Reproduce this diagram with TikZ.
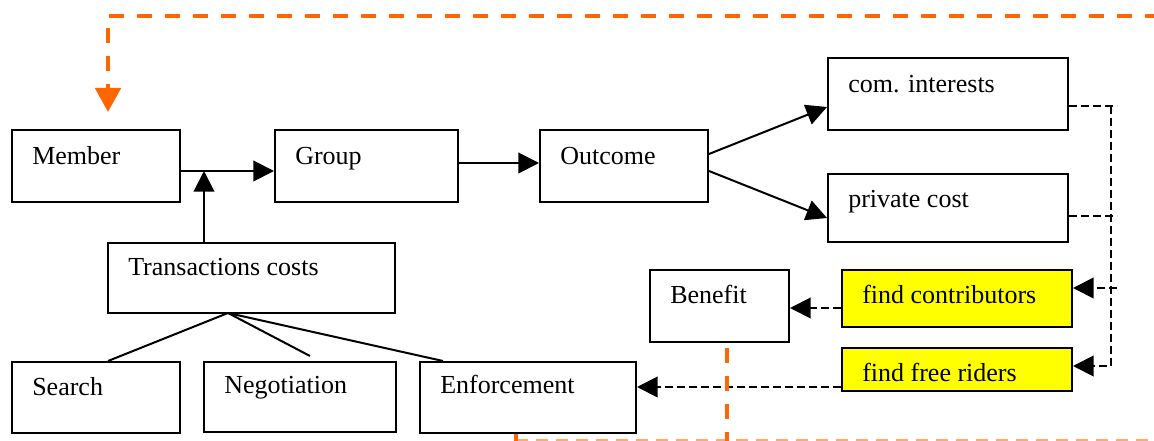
\documentclass[tikz,border=0pt]{standalone}
\usepackage{fontspec}
\setmainfont{Liberation Serif}
\usetikzlibrary{arrows.meta,fit}
\definecolor{loopcol}{HTML}{FF6600}
\definecolor{loopfaint}{HTML}{FFAA70}
\definecolor{hlcol}{HTML}{FFFF00}
\begin{document}
\begin{tikzpicture}[x=0.75pt,y=-0.75pt,
  box/.style={draw=black, line width=1.5pt, inner sep=0pt},
  hlbox/.style={box, fill=hlcol},
  lbl/.style={anchor=base west, inner sep=0pt, font=\fontsize{19.5}{22}\selectfont},
  link/.style={line width=1.5pt, -{Triangle[length=15.5pt,width=15.5pt]}},
  plain/.style={line width=1.5pt},
  dlink/.style={line width=1.5pt, dash pattern=on 6pt off 3pt, -{Triangle[length=15.5pt,width=15.5pt]}},
  dplain/.style={line width=1.5pt, dash pattern=on 6pt off 3pt},
  loopline/.style={draw=loopcol, line width=3pt, dash pattern=on 11.5pt off 9.5pt},
  looparrow/.style={loopline, -{Triangle[length=18pt,width=19pt,fill=loopcol]}},
  loopthin/.style={draw=loopfaint, line width=1.6pt, dash pattern=on 9pt off 6pt}
]
\useasboundingbox (0,0) rectangle (1154,441);

% boxes
\node[box, fit={(12,130) (180,202)}] (member) {};
\node[box, fit={(275,130) (458,202)}] (group) {};
\node[box, fit={(540,130) (708,202)}] (outcome) {};
\node[box, fit={(828,58) (1068,130)}] (comint) {};
\node[box, fit={(828,174) (1068,242)}] (pcost) {};
\node[box, fit={(108,243) (395,313)}] (trans) {};
\node[box, fit={(650,270) (789,342)}] (benefit) {};
\node[hlbox, fit={(842,270) (1072,327)}] (fcontrib) {};
\node[hlbox, fit={(842,348) (1072,391)}] (ffree) {};
\node[box, fit={(12,362) (180,433)}] (search) {};
\node[box, fit={(204,362) (396,432)}] (negot) {};
\node[box, fit={(420,362) (636,433)}] (enforce) {};

% box texts
\node[lbl] (member-t) at ([shift={(21,36)}]member.north west) {Member};
\node[lbl] (group-t) at ([shift={(21,36)}]group.north west) {Group};
\node[lbl] (outcome-t) at ([shift={(21,36)}]outcome.north west) {Outcome};
\node[lbl] (comint-t) at ([shift={(21,36)}]comint.north west) {com. interests};
\node[lbl] (pcost-t) at ([shift={(21,35)}]pcost.north west) {private cost};
\node[lbl] (trans-t) at ([shift={(21,34)}]trans.north west) {Transactions costs};
\node[lbl] (benefit-t) at ([shift={(21,35)}]benefit.north west) {Benefit};
\node[lbl] (fcontrib-t) at ([shift={(21,35)}]fcontrib.north west) {find contributors};
\node[lbl] (ffree-t) at ([shift={(21,35)}]ffree.north west) {find free riders};
\node[lbl] (search-t) at ([shift={(21,35)}]search.north west) {Search};
\node[lbl] (negot-t) at ([shift={(21,33)}]negot.north west) {Negotiation};
\node[lbl] (enforce-t) at ([shift={(21,33)}]enforce.north west) {Enforcement};

% helper coordinates for connector heights and columns
\coordinate (ymg) at (0,171);
\coordinate (xjn) at (204,0);
\coordinate (ygo) at (0,163);
\coordinate (yo1) at (0,154);
\coordinate (yo2) at (0,171);
\coordinate (yc1) at (0,107);
\coordinate (yc2) at (0,218);
\coordinate (apex) at (228,313);
\coordinate (xs) at (108,0);
\coordinate (negend) at (310,356);
\coordinate (xe) at (443,0);

% main flow
\draw[link] (member.east |- ymg) -- (group.west |- ymg);
\draw[link] (trans.north -| xjn) -- (xjn |- ymg);
\draw[link] (group.east |- ygo) -- (outcome.west |- ygo);
\draw[link] (outcome.east |- yo1) -- (comint.west |- yc1);
\draw[link] (outcome.east |- yo2) -- (pcost.west |- yc2);

% transaction cost components
\draw[plain] (apex) -- (search.north -| xs);
\draw[plain] (apex) -- (negend);
\draw[plain] (apex) -- (enforce.north -| xe);

% dashed feedback on the right
\coordinate (ra) at (1117,106);
\coordinate (rb) at (1111,106);
\coordinate (rc) at (1111,366);
\coordinate (rd) at (1117,216);
\coordinate (re) at (1117,288);
\draw[dplain] (comint.east |- ra) -- (ra);
\draw[dlink] (rb) -- (rc) -- (ffree.east |- rc);
\draw[dplain] (pcost.east |- rd) -- (rd);
\draw[dlink] (re) -- (fcontrib.east |- re);
\coordinate (yb) at (0,308);
\coordinate (yf) at (0,387);
\draw[dlink] (fcontrib.west |- yb) -- (benefit.east |- yb);
\draw[dlink] (ffree.west |- yf) -- (enforce.east |- yf);

% orange loop back to the member
\coordinate (lb1) at (516,440);
\coordinate (lb2) at (1160,440);
\coordinate (bx) at (727,441);
\coordinate (ex) at (516,441);
\coordinate (tr) at (1160,16);
\coordinate (tl) at (108,16);
\coordinate (mtip) at (108,112);
\draw[loopthin] (lb1) -- (lb2);
\draw[loopline] (benefit.south -| bx) ++(0,5) -- (bx);
\draw[loopline] (enforce.south -| ex) -- (ex);
\draw[looparrow] (tr) -- (tl) -- (mtip);
\end{tikzpicture}
\end{document}
